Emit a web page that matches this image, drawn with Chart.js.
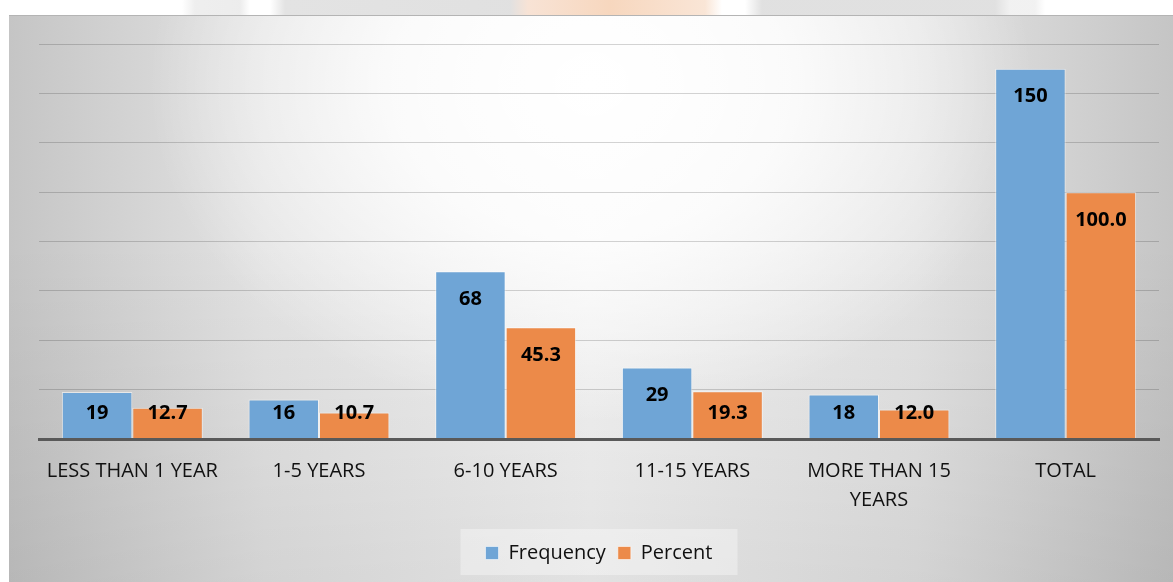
<!DOCTYPE html>
<html>
<head>
<meta charset="utf-8">
<script src="https://cdn.jsdelivr.net/npm/chart.js@4.4.1/dist/chart.umd.min.js"></script>
<style>
  html, body { margin: 0; padding: 0; background: #ffffff; }
  body { width: 1173px; height: 582px; position: relative; overflow: hidden; }
  #mark {
    position: absolute; left: 0; top: 0; width: 1173px; height: 15px;
    background: linear-gradient(90deg,
      #ffffff 0px, #ffffff 182px, #eaeaea 195px, #e8e8e8 240px, #ffffff 250px,
      #ffffff 270px, #dcdcdc 285px, #d9d9d9 510px, #f6dccb 528px, #f5cdae 610px,
      #f8dfcc 705px, #ffffff 722px, #ffffff 745px, #d9d9d9 762px, #d9d9d9 995px,
      #eeeeee 1010px, #eeeeee 1035px, #ffffff 1045px, #ffffff 1173px);
    opacity: 0.8;
  }
  #panel {
    position: absolute; left: 9px; top: 15px; width: 1164px; height: 567px;
    border-top: 1px solid #b4b4b4;
    box-sizing: border-box;
    background:
      radial-gradient(ellipse 38% 60% at 50% 12%, rgba(255,255,255,1) 0%, rgba(255,255,255,0.8) 45%, rgba(255,255,255,0) 100%),
      linear-gradient(180deg, rgba(0,0,0,0) 0%, rgba(0,0,0,0) 40%, rgba(0,0,0,0.07) 100%),
      linear-gradient(90deg, #c5c5c5 0%, #e3e3e3 22%, #f3f3f3 50%, #e3e3e3 78%, #c5c5c5 100%);
  }
  #wrap { position: absolute; left: 0; top: 0; width: 1164px; height: 566px; }
</style>
</head>
<body>
<div id="mark"></div>
<div id="panel"><div id="wrap"><canvas id="chart"></canvas></div></div>
<script>
// Respondents by years of experience
const categories = [
  'LESS THAN 1 YEAR',
  '1-5 YEARS',
  '6-10 YEARS',
  '11-15 YEARS',
  ['MORE THAN 15', 'YEARS'],
  'TOTAL'
];
const frequency = [19, 16, 68, 29, 18, 150];
const percent = [12.7, 10.7, 45.3, 19.3, 12.0, 100.0];
const seriesNames = ['Frequency', 'Percent'];
const decimals = [0, 1];

const blue = 'rgb(111,165,214)';
const orange = 'rgb(236,138,73)';

// Bold value labels near the top of each bar
const valueLabels = {
  id: 'valueLabels',
  afterDatasetsDraw(chart) {
    const ctx = chart.ctx;
    ctx.save();
    ctx.font = 'bold 20px "Open Sans", sans-serif';
    ctx.fillStyle = '#000000';
    ctx.textAlign = 'center';
    ctx.textBaseline = 'middle';
    chart.data.datasets.forEach((ds, di) => {
      const meta = chart.getDatasetMeta(di);
      meta.data.forEach((bar, i) => {
        const y = Math.min(bar.y + 28, bar.base - 25);
        ctx.fillText(ds.data[i].toFixed(decimals[di]), bar.x, y);
      });
    });
    ctx.restore();
  }
};

// Soft box behind the legend
const legendBox = {
  id: 'legendBox',
  beforeDraw(chart) {
    const lg = chart.legend;
    if (!lg) return;
    const ctx = chart.ctx;
    const w = 277, h = 46;
    const cx = (chart.chartArea.left + chart.chartArea.right) / 2;
    const top = lg.top + (lg.height - h) / 2;
    ctx.save();
    ctx.fillStyle = 'rgba(255,255,255,0.35)';
    ctx.fillRect(cx - w / 2, top, w, h);
    ctx.restore();
  }
};

new Chart(document.getElementById('chart'), {
  type: 'bar',
  data: {
    labels: categories,
    datasets: [
      { label: seriesNames[0], data: frequency, backgroundColor: blue,
        borderColor: 'rgba(255,255,255,0.55)', borderWidth: 1 },
      { label: seriesNames[1], data: percent, backgroundColor: orange,
        borderColor: 'rgba(255,255,255,0.55)', borderWidth: 1 }
    ]
  },
  options: {
    responsive: true,
    maintainAspectRatio: false,
    animation: false,
    layout: { padding: { left: 30, right: 14, top: 28, bottom: 9 } },
    datasets: { bar: { categoryPercentage: 0.755, barPercentage: 1.0 } },
    scales: {
      x: {
        grid: { display: false, drawTicks: false },
        border: { display: true, color: '#595959', width: 3, z: 1 },
        ticks: {
          color: '#111111',
          font: { family: '"Open Sans", sans-serif', size: 20, lineHeight: 1.45 },
          padding: 18,
          maxRotation: 0,
          autoSkip: false
        },
        afterFit(scale) { scale.height = 92; }
      },
      y: {
        min: 0, max: 160,
        ticks: { display: false, stepSize: 20 },
        grid: { color: 'rgba(0,0,0,0.17)', lineWidth: 1, drawTicks: false },
        border: { display: false },
        afterFit(scale) { scale.width = 0; }
      }
    },
    plugins: {
      legend: {
        position: 'bottom',
        labels: {
          color: '#111111',
          font: { family: '"Open Sans", sans-serif', size: 20 },
          boxWidth: 13, boxHeight: 13,
          padding: 12
        }
      },
      tooltip: { enabled: false }
    }
  },
  plugins: [valueLabels, legendBox]
});
</script>
</body>
</html>
